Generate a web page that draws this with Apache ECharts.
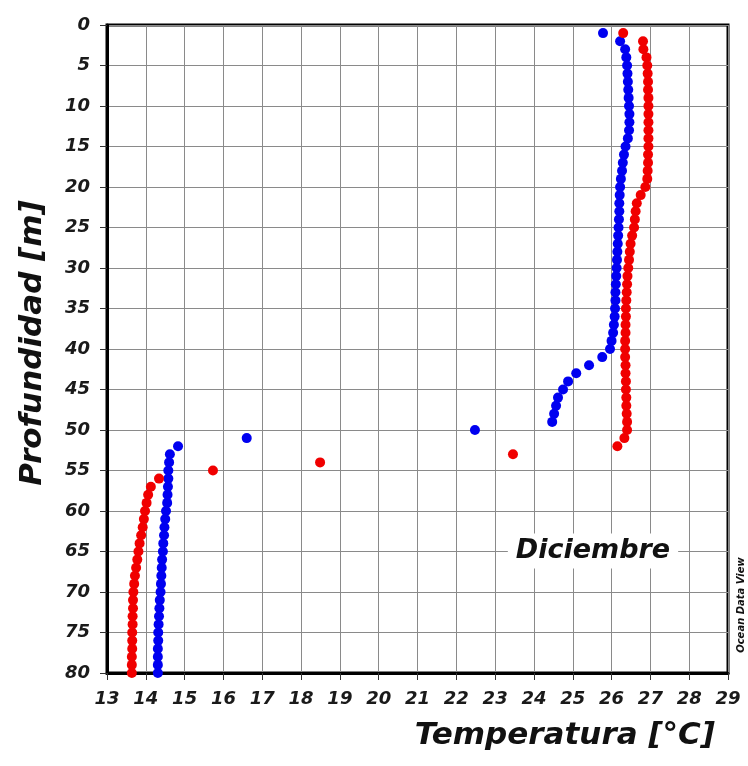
<!DOCTYPE html>
<html><head><meta charset="utf-8">
<script src="https://cdn.jsdelivr.net/npm/echarts@6/dist/echarts.min.js"></script>
<style>html,body{margin:0;padding:0;background:#fff}#c{width:748px;height:766px}</style>
</head><body><div id="c"></div>
<script>
const depths = Array.from({length: 80}, (_, i) => i + 1);
const blueTemps = [25.78,26.22,26.35,26.38,26.40,26.41,26.42,26.43,26.44,26.45,
  26.46,26.46,26.45,26.42,26.36,26.32,26.29,26.27,26.24,26.22,
  26.21,26.20,26.20,26.19,26.18,26.17,26.16,26.15,26.14,26.13,
  26.12,26.11,26.10,26.10,26.09,26.08,26.06,26.04,26.00,25.96,
  25.76,25.42,25.09,24.88,24.75,24.62,24.57,24.52,24.47,22.48,
  16.60,14.83,14.62,14.60,14.58,14.58,14.57,14.56,14.55,14.52,
  14.50,14.48,14.47,14.45,14.44,14.42,14.41,14.40,14.39,14.38,
  14.36,14.35,14.34,14.33,14.32,14.32,14.31,14.31,14.31,14.31];
const redTemps = [26.30,26.81,26.82,26.90,26.92,26.93,26.94,26.94,26.95,26.95,
  26.95,26.95,26.95,26.95,26.95,26.94,26.94,26.93,26.92,26.87,
  26.75,26.65,26.62,26.60,26.58,26.53,26.49,26.47,26.45,26.43,
  26.41,26.40,26.39,26.38,26.37,26.37,26.36,26.36,26.35,26.35,
  26.35,26.36,26.36,26.37,26.37,26.38,26.38,26.39,26.40,26.40,
  26.33,26.15,23.46,18.49,15.73,14.34,14.13,14.06,14.02,13.98,
  13.95,13.92,13.88,13.84,13.81,13.78,13.75,13.72,13.70,13.68,
  13.67,13.67,13.66,13.66,13.65,13.65,13.65,13.64,13.64,13.64];
const xTicks = {min: 13, max: 29, interval: 1};
const yTicks = {min: 0, max: 80, interval: 5};
const xTitle = 'Temperatura [°C]';
const yTitle = 'Profundidad [m]';
const monthLabel = 'Diciembre';
const credit = 'Ocean Data View';

const FF = '"DejaVu Sans", sans-serif';
const chart = echarts.init(document.getElementById('c'), null, {renderer: 'canvas'});
const lbl = {fontFamily: FF, fontWeight: 'bold', fontStyle: 'italic', fontSize: 18, color: '#1a1a1a'};
chart.setOption({
  animation: false,
  backgroundColor: '#fff',
  grid: {left: 107, right: 20, top: 25, bottom: 93, show: true, borderColor: '#000', borderWidth: 3, backgroundColor: 'transparent'},
  xAxis: {
    type: 'value', min: xTicks.min, max: xTicks.max, interval: xTicks.interval,
    axisLine: {show: true, onZero: false, lineStyle: {color: '#000', width: 3}},
    axisTick: {show: true, length: 7, lineStyle: {color: '#333', width: 1}},
    axisLabel: Object.assign({margin: 17}, lbl),
    splitLine: {show: true, lineStyle: {color: '#8a8a8a', width: 1}}
  },
  yAxis: {
    type: 'value', inverse: true, min: yTicks.min, max: yTicks.max, interval: yTicks.interval,
    axisLine: {show: true, onZero: false, lineStyle: {color: '#000', width: 3}},
    axisTick: {show: true, length: 7, lineStyle: {color: '#333', width: 1}},
    axisLabel: Object.assign({margin: 17}, lbl),
    splitLine: {show: true, lineStyle: {color: '#8a8a8a', width: 1}}
  },
  series: [
    {type: 'scatter', symbol: 'circle', symbolSize: 10, itemStyle: {color: '#0000f0', opacity: 1},
     data: depths.map((d, i) => [blueTemps[i], d]), z: 3},
    {type: 'scatter', symbol: 'circle', symbolSize: 10, itemStyle: {color: '#f00000', opacity: 1},
     data: depths.map((d, i) => [redTemps[i], d]), z: 4}
  ],
  graphic: [
    {type: 'text', position: [593, 551], z: 100,
     style: {text: monthLabel, font: 'italic bold 27px ' + FF, fill: '#111', align: 'center', verticalAlign: 'middle',
       backgroundColor: '#fff', padding: [4, 8]}},
    {type: 'text', position: [715, 736], z: 100,
     style: {text: xTitle, font: 'italic bold 31px ' + FF, fill: '#111', align: 'right', verticalAlign: 'middle'}},
    {type: 'text', position: [33, 343], rotation: Math.PI / 2, z: 100,
     style: {text: yTitle, font: 'italic bold 31px ' + FF, fill: '#111', align: 'center', verticalAlign: 'middle'}},
    {type: 'text', position: [741, 605], rotation: Math.PI / 2, z: 100,
     style: {text: credit, font: 'italic bold 10px ' + FF, fill: '#111', align: 'center', verticalAlign: 'middle'}}
  ]
});
</script></body></html>
